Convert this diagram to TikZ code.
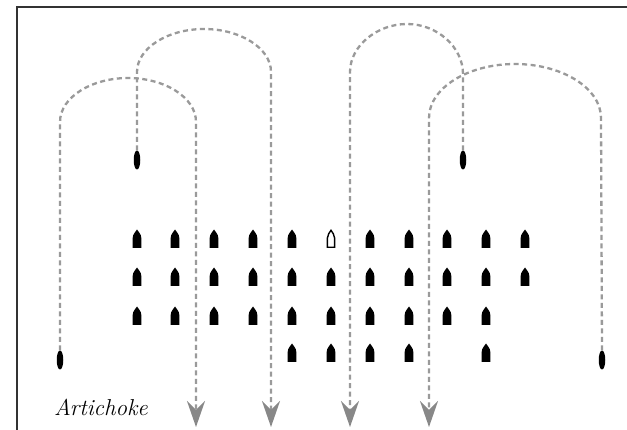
\documentclass[tikz,border=0pt]{standalone}
\usetikzlibrary{shapes.geometric,arrows.meta}
\definecolor{trackgray}{HTML}{9A9A9A}
\definecolor{tipgray}{HTML}{888888}
\definecolor{framegray}{HTML}{333333}
\tikzset{
  x=1pt, y=-1pt,
  track/.style={draw=trackgray, line width=2.3pt, dash pattern=on 5pt off 3.5pt,
    -{Stealth[length=26pt,width=18pt,inset=9pt,color=tipgray,fill=tipgray]}},
  lone/.style={ellipse, fill=black, minimum width=6.5pt, minimum height=19pt, inner sep=0pt},
  boat/.pic={\fill[black] (-4.3,9) -- (-4.3,-1) .. controls (-4.3,-5) and (-1.5,-6.8) .. (0,-9.5)
      .. controls (1.5,-6.8) and (4.3,-5) .. (4.3,-1) -- (4.3,9) -- cycle;},
  hollowboat/.pic={\draw[black, line width=1.4pt, fill=white] (-3.6,8.3) -- (-3.6,-1) .. controls (-3.6,-4.6) and (-1.3,-6.2) .. (0,-8.7)
      .. controls (1.3,-6.2) and (3.6,-4.6) .. (3.6,-1) -- (3.6,8.3) -- cycle;}
}
\begin{document}
\begin{tikzpicture}
\useasboundingbox (0,0) rectangle (627,430);
\fill[white] (0,0) rectangle (627,430);
% frame
\draw[framegray, line width=2pt] (17,430) -- (17,7) -- (627,7);

% lone boats
\node[lone] (bl) at (60,360) {};
\node[lone] (br) at (602,360) {};
\node[lone] (tl) at (137,160) {};
\node[lone] (tr) at (463,160) {};

% arrow end points
\coordinate (aA) at (196,427);
\coordinate (aB) at (271,427);
\coordinate (aC) at (350,427);
\coordinate (aD) at (429,427);

% tracks
\draw[track] (bl.north) -- (60,122) .. controls (60,97) and (92,78) .. (128,78)
   .. controls (164,78) and (196,97) .. (196,122) -- (aA);
\draw[track] (tl.north) -- (137,72) .. controls (137,48) and (168,29) .. (204,29)
   .. controls (240,29) and (271,48) .. (271,72) -- (aB);
\draw[track] (tr.north) -- (463,74) .. controls (463,47) and (437,24) .. (407,24)
   .. controls (377,24) and (350,46) .. (350,72) -- (aC);
\draw[track] (br.north) -- (601,118) .. controls (601,88) and (562,64) .. (515,64)
   .. controls (468,64) and (429,88) .. (429,118) -- (aD);

% formation
\foreach \x in {137,175,214,253,292,370,409,447,486,525} \pic at (\x,239) {boat};
\pic at (331,239) {hollowboat};
\foreach \x in {137,175,214,253,292,331,370,409,447,486,525} \pic at (\x,277) {boat};
\foreach \x in {137,175,214,253,292,331,370,409,447,486} \pic at (\x,316) {boat};
\foreach \x in {292,331,370,409,486} \pic at (\x,353) {boat};

% label
\node[anchor=base west, inner sep=0pt, font=\fontsize{23}{24}\selectfont\itshape] (lbl) at (54,416) {Artichoke};
\end{tikzpicture}
\end{document}
